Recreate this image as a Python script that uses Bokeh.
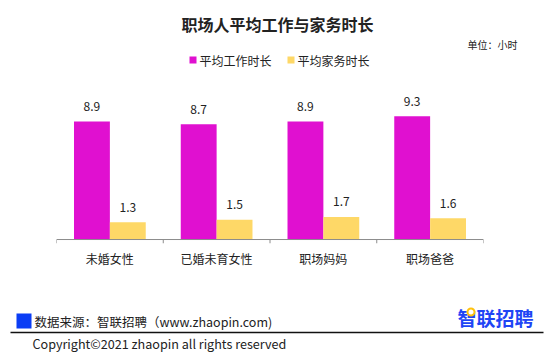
from bokeh.plotting import figure
from bokeh.layouts import column
from bokeh.models import ColumnDataSource, FactorRange, Range1d, Span, LabelSet
from bokeh.transform import dodge
from bokeh.core.properties import value
from bokeh.embed import file_html
from bokeh.resources import INLINE

categories = ["未婚女性", "已婚未育女性", "职场妈妈", "职场爸爸"]
work_hours = [8.9, 8.7, 8.9, 9.3]
house_hours = [1.3, 1.5, 1.7, 1.6]
series_names = ["平均工作时长", "平均家务时长"]

FONT = "Noto Sans CJK SC"
C_WORK = "#E010D0"
C_HOUSE = "#FED867"
TXT = "#222222"

W = 553
HEAD_H, MAIN_H, FOOT_H = 80, 220, 57


def blank_fig(h, y0):
    f = figure(width=W, height=h, x_range=Range1d(0, W), y_range=Range1d(y0 + h, y0),
               output_backend="svg", toolbar_location=None, x_axis_location=None,
               y_axis_location=None, min_border_left=0, min_border_right=0,
               min_border_top=0, min_border_bottom=0, frame_align=False)
    f.outline_line_color = None
    f.xgrid.grid_line_color = None
    f.ygrid.grid_line_color = None
    return f


def put_text(f, x, y, s, size, align="left", bold=False, color=TXT):
    f.text(x=[x], y=[y], text=[s], text_font=value(FONT), text_font_size=size,
           text_align=align, text_baseline="middle", text_color=color,
           text_font_style="bold" if bold else "normal")


# ---------- header: title, legend, unit ----------
head = blank_fig(HEAD_H, 0)
put_text(head, 277, 23, "职场人平均工作与家务时长", "16px", align="center", bold=True)
put_text(head, 467, 44, "单位：小时", "10px")
leg_x = [189, 287]
for lx, name, col in zip(leg_x, series_names, [C_WORK, C_HOUSE]):
    head.quad(left=[lx], right=[lx + 7], top=[56], bottom=[63], fill_color=col, line_color=None)
    put_text(head, lx + 10, 60, name, "12px")

# ---------- main chart ----------
src = ColumnDataSource(dict(cat=categories, work=work_hours, house=house_hours,
                            work_lbl=[f"{v:.1f}" for v in work_hours],
                            house_lbl=[f"{v:.1f}" for v in house_hours]))

p = figure(width=W, height=MAIN_H, x_range=FactorRange(*categories, range_padding=0),
           y_range=Range1d(-0.3, 12.0), output_backend="svg", toolbar_location=None,
           y_axis_location=None, min_border_left=56, min_border_right=70,
           min_border_top=0, min_border_bottom=57, frame_align=False)
p.outline_line_color = None
p.xgrid.grid_line_color = None
p.ygrid.grid_line_color = None

bw = 0.336
p.vbar(x=dodge("cat", -bw / 2, range=p.x_range), top="work", width=bw, source=src,
       fill_color=C_WORK, line_color=None)
p.vbar(x=dodge("cat", bw / 2, range=p.x_range), top="house", width=bw, source=src,
       fill_color=C_HOUSE, line_color=None)

# axis line and ticks at category boundaries (synthetic categorical coordinates)
p.add_layout(Span(location=0, dimension="width", line_color="#8c8c8c", line_width=1))
bx = [float(i) for i in range(len(categories) + 1)]
p.segment(x0=bx, x1=bx, y0=[0] * len(bx), y1=[-0.3] * len(bx),
          line_color="#8c8c8c", line_width=1)

ax = p.xaxis[0]
ax.axis_line_color = None
ax.major_tick_line_color = None
ax.minor_tick_line_color = None
ax.major_tick_out = 0
ax.major_label_standoff = 6
ax.major_label_text_font = FONT
ax.major_label_text_font_size = "12px"
ax.major_label_text_color = TXT

for col, lbl, off in (("work", "work_lbl", -bw / 2), ("house", "house_lbl", bw / 2)):
    p.add_layout(LabelSet(x=dodge("cat", off, range=p.x_range), y=col, text=lbl, source=src,
                          y_offset=15, text_align="center", text_baseline="middle",
                          text_font=value(FONT), text_font_size="12px", text_color=TXT))

# ---------- footer ----------
foot = blank_fig(FOOT_H, HEAD_H + MAIN_H)
foot.quad(left=[16], right=[31], top=[313], bottom=[328], fill_color="#0B3DF5", line_color=None)
foot.segment(x0=[10], x1=[543], y0=[332], y1=[332], line_color="#111111", line_width=1.5)
put_text(foot, 34, 321, "数据来源：智联招聘（www.zhaopin.com)", "12.5px")
put_text(foot, 32, 343, "Copyright©2021 zhaopin all rights reserved", "12.6px")
put_text(foot, 495, 317, "智联招聘", "19px", align="center", bold=True, color="#1F45F5")
foot.scatter(x=[470.5], y=[311.5], size=7, marker="circle", fill_color="white",
             line_color="#FFC20E", line_width=2)

layout = column(head, p, foot, spacing=0)
open("out.html", "w").write(file_html(layout, INLINE))
